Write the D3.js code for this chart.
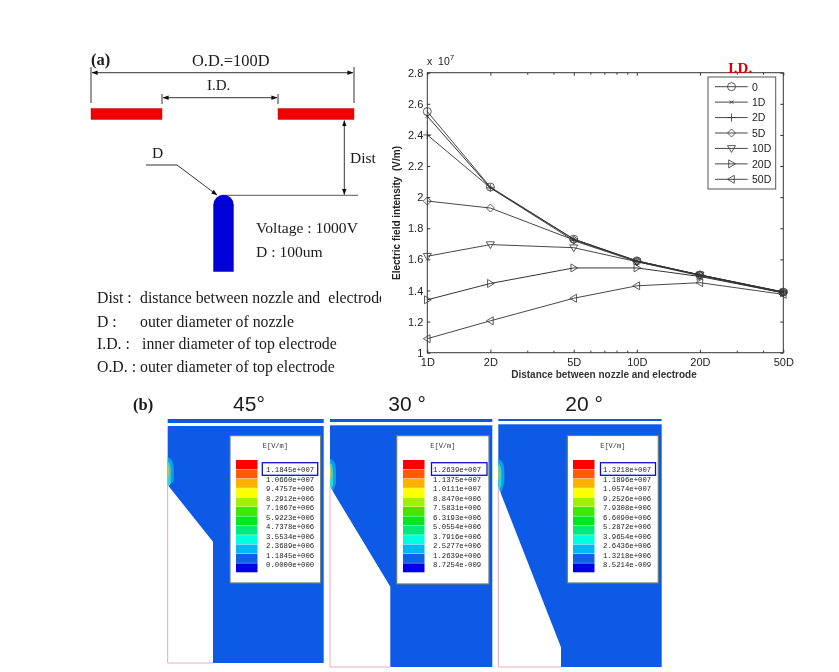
<!DOCTYPE html>
<html><head><meta charset="utf-8">
<script src="https://cdn.jsdelivr.net/npm/d3@7"></script>
<style>html,body{margin:0;padding:0;background:#fff}svg{display:block}</style>
</head><body><svg id="c" width="839" height="672"></svg>
<script>
const distances=[1,2,5,10,20,50];
const seriesNames=["0","1D","2D","5D","10D","20D","50D"];
const s0=[2.55,2.065,1.73,1.59,1.50,1.39];
const s1=[2.52,2.06,1.73,1.59,1.50,1.39];
const s2=[2.40,2.06,1.72,1.585,1.495,1.385];
const s5=[1.975,1.93,1.725,1.59,1.50,1.39];
const s10=[1.62,1.695,1.675,1.585,1.50,1.385];
const s20=[1.34,1.445,1.545,1.545,1.49,1.385];
const s50=[1.09,1.205,1.35,1.43,1.45,1.375];
const allSeries=[s0,s1,s2,s5,s10,s20,s50];
const markers=["circle","x","plus","diamond","down","right","left"];
const yTicks=[1,1.2,1.4,1.6,1.8,2,2.2,2.4,2.6,2.8];
const xMinor=[3,4,6,7,8,9,30,40];
const bandColors=["#ff0000","#ff5a00","#ffb000","#ffff00","#a0f000","#40e800","#00e820","#00e880","#00ffe0","#00b8f0","#0a62e8","#0000e8"];
const panelTitles=["45°","30 °","20 °"];
const labels45=["1.1845e+007","1.0660e+007","9.4757e+006","8.2912e+006","7.1067e+006","5.9223e+006","4.7378e+006","3.5534e+006","2.3689e+006","1.1845e+006","0.0000e+000"];
const labels30=["1.2639e+007","1.1375e+007","1.0111e+007","8.8470e+006","7.5831e+006","6.3193e+006","5.0554e+006","3.7916e+006","2.5277e+006","1.2639e+006","8.7254e-009"];
const labels20=["1.3218e+007","1.1896e+007","1.0574e+007","9.2526e+006","7.9308e+006","6.6090e+006","5.2872e+006","3.9654e+006","2.6436e+006","1.3218e+006","8.5214e-009"];

const svg=d3.select("#c");
const SERIF="'Liberation Serif',serif", SANS="'Liberation Sans',sans-serif", MONO="'Liberation Mono',monospace";
const defs=svg.append("defs");
const soft=defs.append("filter").attr("id","soft").attr("x","-5%").attr("y","-5%").attr("width","110%").attr("height","110%");
soft.append("feGaussianBlur").attr("stdDeviation",0.4);
defs.append("marker").attr("id","arr").attr("viewBox","0 0 8 8").attr("refX",7.5).attr("refY",4).attr("markerWidth",6).attr("markerHeight",6).attr("markerUnits","userSpaceOnUse").attr("orient","auto-start-reverse").append("path").attr("d","M0,1 L8,4 L0,7Z").attr("fill","#111");
const root=svg.append("g").attr("filter","url(#soft)");

/* ---------- (a) schematic ---------- */
const A=root.append("g");
const T=(g,x,y,t,size,o={})=>g.append("text").attr("x",x).attr("y",y).text(t).attr("font-family",o.f||SERIF).attr("font-size",size).attr("font-weight",o.w||"normal").attr("fill",o.c||"#1a1a1a").attr("text-anchor",o.a||"start").attr("xml:space","preserve");
const L=(g,x1,y1,x2,y2,o={})=>g.append("line").attr("x1",x1).attr("y1",y1).attr("x2",x2).attr("y2",y2).attr("stroke",o.c||"#333").attr("stroke-width",o.w||1);
T(A,91,65,"(a)",16.5,{w:"bold"});
T(A,192,66,"O.D.=100D",16.4);
T(A,207,90,"I.D.",15);
L(A,91,67,91,103);L(A,354,67,354,103);L(A,162,94,162,104);L(A,278,94,278,104);
L(A,92,72.7,353,72.7).attr("marker-end","url(#arr)").attr("marker-start","url(#arr)");
L(A,163,97.7,277,97.7).attr("marker-end","url(#arr)").attr("marker-start","url(#arr)");
A.append("rect").attr("x",91).attr("y",108.5).attr("width",71).attr("height",11).attr("fill","#f00000").attr("stroke","#a00").attr("stroke-width",.4);
A.append("rect").attr("x",278).attr("y",108.5).attr("width",76).attr("height",11).attr("fill","#f00000").attr("stroke","#a00").attr("stroke-width",.4);
L(A,344.3,120.5,344.3,194.5).attr("marker-end","url(#arr)").attr("marker-start","url(#arr)");
L(A,225,195.3,358,195.3,{c:"#555"});
T(A,350,163,"Dist",15.5);
T(A,152,158,"D",15.5);
A.append("path").attr("d","M146,165 L177,165 L217,195").attr("fill","none").attr("stroke","#333").attr("marker-end","url(#arr)");
A.append("path").attr("d","M213.3,271.7 V205 A10.2,10.2 0 0 1 233.7,205 V271.7Z").attr("fill","#0000d8");
L(A,213.3,205,233.7,205,{c:"#000090",w:.6});
T(A,256,233,"Voltage : 1000V",15.6);
T(A,256,257,"D : 100um",15.6);
defs.append("clipPath").attr("id","cl").append("rect").attr("x",80).attr("y",280).attr("width",301).attr("height",100);
const B=A.append("g").attr("clip-path","url(#cl)");
T(B,97,303,"Dist :",15.8);T(B,140,303,"distance between nozzle and  electrode",15.8);
T(B,97,327,"D :",15.8);T(B,140,327,"outer diameter of nozzle",15.8);
T(B,97,349,"I.D. :",15.8);T(B,142,349,"inner diameter of top electrode",15.8);
T(B,97,372,"O.D. :",15.8);T(B,140,372,"outer diameter of top electrode",15.8);

/* ---------- line chart ---------- */
const px0=427.3,px1=783.3,py0=352.7,py1=72.7;
const x=d3.scaleLog().domain([1,50]).range([px0,px1]);
const y=d3.scaleLinear().domain([1,2.8]).range([py0,py1]);
const C=root.append("g");
const style=g=>{g.select(".domain").remove();g.selectAll("line").attr("stroke","#333");g.selectAll("text").attr("font-family",SANS).attr("font-size",11).attr("fill","#222");};
C.append("g").attr("transform",`translate(0,${py0})`).call(d3.axisBottom(x).tickValues(distances).tickSize(-3).tickPadding(6).tickFormat(d=>d+"D")).call(style);
C.append("g").attr("transform",`translate(0,${py0})`).call(d3.axisBottom(x).tickValues(xMinor).tickSize(-2).tickFormat("")).call(style);
C.append("g").attr("transform",`translate(0,${py1})`).call(d3.axisTop(x).tickValues(distances).tickSize(-3).tickFormat("")).call(style);
C.append("g").attr("transform",`translate(0,${py1})`).call(d3.axisTop(x).tickValues(xMinor).tickSize(-2).tickFormat("")).call(style);
C.append("g").attr("transform",`translate(${px0},0)`).call(d3.axisLeft(y).tickValues(yTicks).tickSize(-3).tickPadding(4).tickFormat(d=>d3.format("~g")(d))).call(style);
C.append("g").attr("transform",`translate(${px1},0)`).call(d3.axisRight(y).tickValues(yTicks).tickSize(-3).tickFormat("")).call(style);
C.append("rect").attr("x",px0).attr("y",py1).attr("width",px1-px0).attr("height",py0-py1).attr("fill","none").attr("stroke","#333").attr("stroke-width",1);
T(C,427,65,"x  10",10.5,{f:SANS});T(C,450,60,"7",7.5,{f:SANS});
T(C,604,378,"Distance between nozzle and electrode",10,{f:SANS,a:"middle",c:"#333"}).attr("font-weight","bold");
T(C,0,0,"Electric field intensity  (V/m)",10,{f:SANS,a:"middle",c:"#222"}).attr("transform","translate(400,213) rotate(-90)").attr("font-weight","bold");
T(C,728,73,"I.D.",15,{w:"bold",c:"#e00000"});

function drawMarker(g,kind,cx,cy,r){
  const add=d=>g.append("path").attr("d",d).attr("transform",`translate(${cx},${cy})`).attr("fill","none").attr("stroke","#333").attr("stroke-width",.8);
  if(kind==="circle")add(`M${-r},0A${r},${r} 0 1 0 ${r},0A${r},${r} 0 1 0 ${-r},0`);
  if(kind==="x")add("M-2,-1.5L2,1.5M-2,1.5L2,-1.5");
  if(kind==="plus")add(`M${-r},0H${r}M0,${-r}V${r}`);
  if(kind==="diamond")add(`M0,${-r}L${r},0L0,${r}L${-r},0Z`);
  if(kind==="down")add(`M${-r},${-r*.7}H${r}L0,${r}Z`);
  if(kind==="right")add(`M${-r*.7},${-r}V${r}L${r},0Z`);
  if(kind==="left")add(`M${r*.7},${-r}V${r}L${-r},0Z`);
}
const line=d3.line().x((d,i)=>x(distances[i])).y(d=>y(d));
allSeries.forEach((vals,k)=>{
  C.append("path").attr("d",line(vals)).attr("fill","none").attr("stroke","#333").attr("stroke-width",k===1||k===5?1:.9);
  const g=C.append("g");
  vals.forEach((v,i)=>drawMarker(g,markers[k],x(distances[i]),y(v),4));
});
const lg=C.append("g");
lg.append("rect").attr("x",708).attr("y",77).attr("width",67.7).attr("height",112).attr("fill","#fff").attr("stroke","#555").attr("stroke-width",1);
const rowY=d3.scaleLinear().domain([0,6]).range([86.7,179.3]);
seriesNames.forEach((n,k)=>{
  L(lg,715,rowY(k),747.7,rowY(k),{c:"#333",w:.9});
  drawMarker(lg,markers[k],731.5,rowY(k),4);
  T(lg,752,rowY(k)+3.8,n,10.5,{f:SANS});
});

/* ---------- (b) field panels ---------- */
T(root,133,410,"(b)",16.5,{w:"bold"});
const panels=[
 {l:167.7,r:323.7,st:419,sb:423,t:426,b:663,wy:485,wx:213,wb:541.7,lx:230,lr:320.7,lt:435.7,lbm:583,sw:236,tx:266,box:[262.3,317.7],title:249,labels:labels45},
 {l:330,r:492.3,st:419,sb:422,t:425.3,b:667,wy:486.7,wx:390.3,wb:586.7,lx:396.7,lr:489,lt:435.7,lbm:584,sw:403,tx:433,box:[431.5,487],title:407,labels:labels30},
 {l:498.3,r:661.7,st:419,sb:421,t:424.3,b:667,wy:487,wx:561,wb:647.3,lx:567.3,lr:658.3,lt:435.5,lbm:583,sw:573,tx:603,box:[600.5,655.5],title:584,labels:labels20}
];
panels.forEach((p,i)=>{
  const g=root.append("g");
  T(g,p.title,411,panelTitles[i],21,{f:SANS,a:"middle"});
  g.append("rect").attr("x",p.l).attr("y",p.st).attr("width",p.r-p.l).attr("height",p.sb-p.st).attr("fill","#0a58e0");
  g.append("rect").attr("x",p.l).attr("y",p.t).attr("width",p.r-p.l).attr("height",p.b-p.t).attr("fill","#0a5ae6");
  // emitter glow
  g.append("path").attr("d",`M${p.l},${p.wy-28} q6,2 6,12 v12 l-6,${i?18:6}Z`).attr("fill","#10a0e8");
  g.append("path").attr("d",`M${p.l},${p.wy-24} q3,2 3,10 v12 l-3,6Z`).attr("fill","#30d8d0");
  g.append("path").attr("d",`M${p.l},${p.wy-22} q1.5,4 1.5,10 l-1.5,6Z`).attr("fill","#d0c040");
  // white wedge (nozzle body)
  g.append("path").attr("d",`M${p.l},${p.wy} L${p.wx},${p.wb} V${p.b} H${p.l}Z`).attr("fill","#fff");
  g.append("path").attr("d",`M${p.l},${p.wy} V${p.b} H${p.wx}`).attr("fill","none").attr("stroke","#e8b0bc").attr("stroke-width",1);
  // legend
  g.append("rect").attr("x",p.lx).attr("y",p.lt).attr("width",p.lr-p.lx).attr("height",p.lbm-p.lt).attr("fill","#fff").attr("stroke","#6a7a70").attr("stroke-width",1.2);
  T(g,(p.lx+p.lr)/2,448,"E[V/m]",7,{f:MONO,a:"middle",c:"#333"});
  const band=d3.scaleBand().domain(d3.range(bandColors.length)).range([460,572.7]);
  bandColors.forEach((c,j)=>g.append("rect").attr("x",p.sw).attr("y",band(j)).attr("width",21.5).attr("height",band.bandwidth()-.4).attr("fill",c));
  const ly=d3.scaleLinear().domain([0,10]).range([472,567]);
  p.labels.forEach((s,j)=>T(g,p.tx,ly(j),s,7.3,{f:MONO,c:"#222"}));
  g.append("rect").attr("x",p.box[0]).attr("y",462.7).attr("width",p.box[1]-p.box[0]).attr("height",12.6).attr("fill","none").attr("stroke","#1010c0").attr("stroke-width",1.3);
});
</script></body></html>
